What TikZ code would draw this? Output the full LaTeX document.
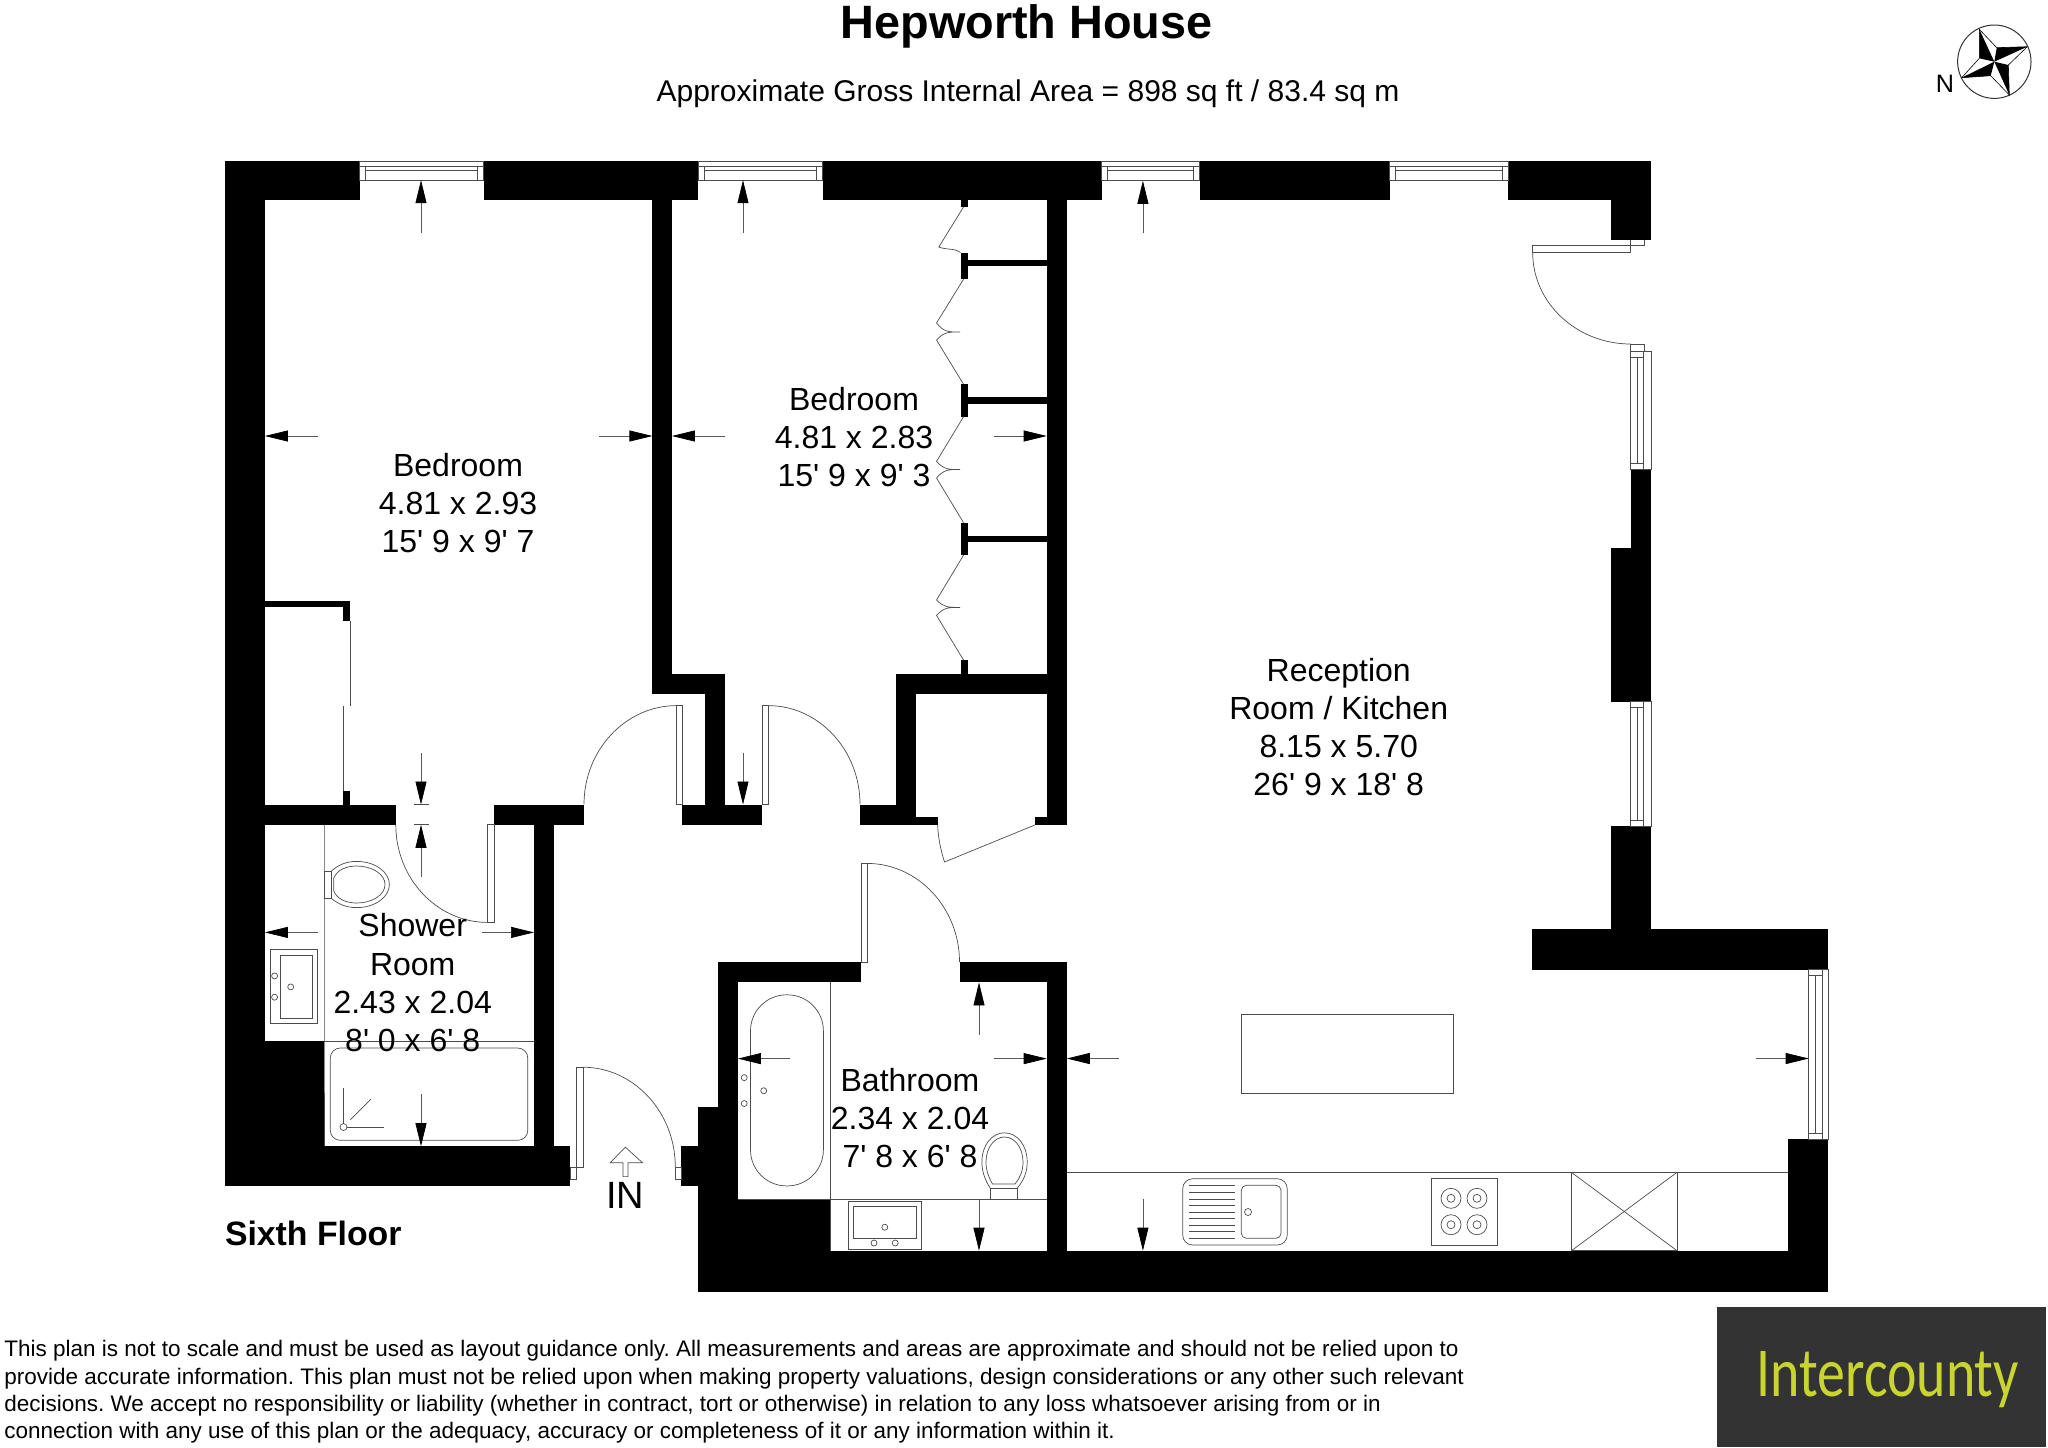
\documentclass[tikz,border=0pt]{standalone}
\usepackage{fontspec}
\setmainfont{Liberation Sans}
\newfontfamily\planfont{Liberation Sans}
\newfontfamily\logofont{Carlito}
\usetikzlibrary{arrows.meta}
\definecolor{logogrey}{HTML}{333333}
\definecolor{logoyellow}{HTML}{C9D52F}
\tikzset{
    wall/.style={fill=black},
    fitting/.style={draw=black!70, line width=.35pt},
    dimarrow/.style={draw=black!65, line width=.35pt, -{Triangle[length=11.5pt,width=5.5pt,color=black]}},
    roomlabel/.style={align=center, inner sep=0pt, font=\planfont\fontsize{16}{19.1}\selectfont},
    boldlabel/.style={inner sep=0pt, font=\bfseries}
}
\begin{document}
\begin{tikzpicture}[x=.5pt, y=-.5pt]
    \useasboundingbox (0,0) rectangle (2048,1447);
    % Muri esterni in alto
    \foreach \xa/\xb in {225/359.6, 483.6/698.3, 822.8/1101.5, 1199.5/1389.8, 1508.2/1651}
        \fill[wall] (\xa,161) rectangle (\xb,200.3);
    \fill[wall] (1611.2,200) rectangle (1651,239.5);
    % Muri a sinistra
    \fill[wall] (225,161) rectangle (264.9,1186.2);
    \fill[wall] (225,1146.2) rectangle (570.3,1186.2);
    \fill[wall] (264.9,1041) rectangle (324,1186.2);
    \fill[wall] (534,804.5) rectangle (554.2,1146.2);
    \fill[wall] (264.9,804.5) rectangle (395.8,824.8);
    \fill[wall] (493.9,804.5) rectangle (584,824.8);
    % Armadio camera sinistra
    \fill[wall] (264.9,600.7) rectangle (350.4,607.4);
    \fill[wall] (343,600.7) rectangle (350.4,620.8);
    \fill[wall] (343,791) rectangle (350.4,804.5);
    % Muri tra le camere
    \fill[wall] (652.4,200) rectangle (671.9,693.6);
    \fill[wall] (652.4,673.5) rectangle (725.3,693.6);
    \fill[wall] (705.2,673.5) rectangle (725.3,804.5);
    \fill[wall] (682.2,804.5) rectangle (762,824.8);
    % Ripostiglio
    \fill[wall] (1046.7,200) rectangle (1066.8,824.8);
    \fill[wall] (895.7,673.5) rectangle (1046.7,693.6);
    \fill[wall] (895.7,673.5) rectangle (915.8,824.8);
    \fill[wall] (860,804.5) rectangle (915.8,824.8);
    \fill[wall] (915.8,817.2) rectangle (937.7,824.8);
    \fill[wall] (1035.3,817.2) rectangle (1046.7,824.8);
    % Bagno
    \fill[wall] (717.8,962) rectangle (861.3,982.4);
    \fill[wall] (959.5,962) rectangle (1066.8,982.4);
    \fill[wall] (717.8,962) rectangle (737.9,1292);
    \fill[wall] (698.3,1107) rectangle (717.8,1292);
    \fill[wall] (681,1146.2) rectangle (698.3,1186.2);
    \fill[wall] (737.9,1199) rectangle (830.3,1251);
    \fill[wall] (1046.7,962) rectangle (1066.8,1292);
    \fill[wall] (698.3,1250.7) rectangle (1828,1292);
    % Muri a destra
    \fill[wall] (1630.6,469.6) rectangle (1651,548);
    \fill[wall] (1611.2,548) rectangle (1651,701.7);
    \fill[wall] (1611.2,826.2) rectangle (1651,929);
    \fill[wall] (1532,929) rectangle (1828,969.5);
    \fill[wall] (1788.3,1139.3) rectangle (1828,1292);
    % Mensole dell'armadio
    \foreach \ya/\yb/\yc/\yd in {259.6/266.3/252.5/279.3, 397/404.3/384.2/416.8, 535.5/542.2/522.6/555.2} {
        \fill[wall] (968.1,\ya) rectangle (1046.7,\yb);
        \fill[wall] (960.6,\yc) rectangle (968.1,\yd);
    }
    \fill[wall] (960.6,200) rectangle (968.1,207);
    \fill[wall] (960.6,660) rectangle (968.1,673.5);
    % Ante a libro
    \draw[fitting] (963.5,207) -- (938.8,247) .. controls (946,250) and (955,248) .. (960.6,252.5);
    \foreach \ya/\yb/\yc/\yd/\ye in {279.3/323/332/340/384.2, 416.8/461.4/469.5/478/522.6, 555.2/600/607.4/615.4/660} {
        \draw[fitting] (963.5,\ya) -- (936.5,\yb) .. controls (944,\yc) and (948,\yc) .. (960,\yc)
            .. controls (948,\yc) and (944,\yc) .. (936.5,\yd) -- (963.5,\ye);
    }
    % Scorrevoli camera sinistra
    \draw[fitting] (350.4,620.8) -- (350.4,705.6);
    \draw[fitting] (343.5,705.6) -- (343.5,791);
    % Finestre in alto
    \foreach \xa/\xb in {359.6/483.6, 698.3/822.8, 1101.5/1199.5, 1389.8/1508.2} {
        \draw[fitting] (\xa,161) rectangle (\xb,180);
        \draw[fitting] (\xa,166.8) -- (\xb,166.8);
        \draw[fitting] (\xa+6,170.5) -- (\xb-6,170.5);
        \draw[fitting] (\xa+6,166.8) -- (\xa+6,180);
        \draw[fitting] (\xb-6,166.8) -- (\xb-6,180);
    }
    % Finestre a destra
    \foreach \xa/\xb/\ya/\yb in {1630.6/1651/351.2/469.6, 1630.6/1651/701.7/826.2, 1808.7/1828/969.5/1139.3} {
        \draw[fitting] (\xa,\ya) rectangle (\xb,\yb);
        \draw[fitting] (\xa+6.5,\ya+6) -- (\xa+6.5,\yb-6);
        \draw[fitting] (\xa+13.2,\ya) -- (\xa+13.2,\yb);
        \draw[fitting] (\xa,\ya+6) -- (\xa+13.2,\ya+6);
        \draw[fitting] (\xa,\yb-6) -- (\xa+13.2,\yb-6);
    }
    % Porte
    \draw[fitting] (676.5,705.6) rectangle (682.2,804.5);
    \draw[fitting] (584,804.3) .. controls (584,750) and (625.6,705.6) .. (676.5,705.6);
    \draw[fitting] (762,705.6) rectangle (768.3,804.5);
    \draw[fitting] (768.3,705.6) .. controls (818.7,705.6) and (860,750) .. (860,804.3);
    \draw[fitting] (487.6,824.8) rectangle (493.9,922.4);
    \draw[fitting] (395.8,824.8) .. controls (395.8,878.5) and (437,922.4) .. (487.6,922.4);
    \draw[fitting] (861.3,863.4) rectangle (867,962);
    \draw[fitting] (867,863.4) .. controls (917.9,863.4) and (959.5,907.8) .. (959.5,962);
    \draw[fitting] (576.6,1067.2) rectangle (582.9,1166.9);
    \draw[fitting] (570.3,1166.9) rectangle (576.6,1179.3);
    \draw[fitting] (582.9,1067.2) .. controls (633.7,1067.2) and (675.3,1112) .. (675.3,1166.9);
    \draw[fitting] (675.3,1166.9) rectangle (681,1179.3);
    \draw[fitting] (1532.7,245.6) rectangle (1630.6,252.8);
    \draw[fitting] (1630.6,239.5) -- (1630.6,245.6) -- (1643.9,245.6) -- (1643.9,239.5);
    \draw[fitting] (1532.7,252.8) .. controls (1532.7,303) and (1576.8,344) .. (1630.6,344);
    \draw[fitting] (1630.6,344) rectangle (1643.9,351.2);
    \draw[fitting] (937.7,824.8) .. controls (938,838) and (941,851) .. (944.5,862) -- (1035.3,824.8);
    % Bagno con doccia
    \draw[fitting] (324,824.8) -- (324,1041) -- (324,1146.2);
    \draw[fitting] (324,1041) -- (534,1041);
    \draw[fitting, rounded corners=5pt] (330.3,1048) rectangle (527.8,1140.3);
    \draw[fitting] (343.5,1087.6) -- (343.5,1123.5);
    \draw[fitting] (347,1127) -- (383.7,1127);
    \draw[fitting] (350.4,1119.7) -- (371,1099);
    \draw[fitting] (343.5,1127) circle (3.5);
    \draw[fitting] (270,949.7) rectangle (317.7,1023.8);
    \draw[fitting] (280.4,955.5) rectangle (312.5,1018.3);
    \foreach \xa/\ya in {274.6/975.9, 274.6/997.2, 290.7/986.9}
        \draw[fitting] (\xa,\ya) circle (3);
    \draw[fitting] (324,871.4) rectangle (331,898);
    \draw[fitting] (331,871.4) .. controls (338,865) and (346,861.4) .. (356.7,861.4)
        .. controls (375,861.4) and (389.4,872) .. (389.4,884.5)
        .. controls (389.4,897) and (375,907.6) .. (356.7,907.6)
        .. controls (346,907.6) and (338,904) .. (331,898);
    \draw[fitting] (333.8,878) .. controls (337,870) and (346,866) .. (356.7,866)
        .. controls (372,866) and (385,874) .. (385,884.5)
        .. controls (385,895) and (372,903) .. (356.7,903)
        .. controls (346,903) and (337,899) .. (333.8,891) -- cycle;
    % Bagno con vasca
    \draw[fitting] (830.3,982.4) -- (830.3,1250.7);
    \draw[fitting] (737.9,1199) -- (1046.7,1199);
    \draw[fitting, rounded corners=18pt] (750.5,994.8) rectangle (823.4,1185.9);
    \foreach \xa/\ya in {744.2/1077.6, 744.2/1103.5, 763.7/1090.7, 874/1243, 895.2/1243, 884.8/1227.2}
        \draw[fitting, fill=white] (\xa,\ya) circle (3);
    \draw[fitting] (990.5,1188.6) rectangle (1016.9,1199);
    \draw[fitting] (990.5,1188.6) .. controls (985,1180) and (981.9,1172) .. (981.9,1162)
        .. controls (981.9,1145) and (992,1132.8) .. (1004.5,1132.8)
        .. controls (1017,1132.8) and (1027.2,1145) .. (1027.2,1162)
        .. controls (1027.2,1172) and (1024,1180) .. (1016.9,1188.6);
    \draw[fitting] (992.5,1184) .. controls (989,1178) and (986,1171) .. (986,1162)
        .. controls (986,1148) and (994,1137) .. (1004.5,1137)
        .. controls (1015,1137) and (1023,1148) .. (1023,1162)
        .. controls (1023,1171) and (1020,1178) .. (1015,1184) -- cycle;
    \draw[fitting] (848.1,1201) rectangle (921.6,1249);
    \draw[fitting] (853.8,1205.9) rectangle (916.4,1238.7);
    % Cucina
    \draw[fitting] (1066.8,1172.3) -- (1788.3,1172.3);
    \draw[fitting] (1241.3,1014.3) rectangle (1453.6,1093.7);
    \draw[fitting, rounded corners=5pt] (1182.7,1178.7) rectangle (1287.2,1245);
    \draw[fitting, rounded corners=2.5pt] (1241.3,1185.3) rectangle (1281,1238.3);
    \foreach \ya in {1185.7, 1192.3, 1199, 1205.3, 1212, 1218.3, 1225, 1231.7, 1238.3}
        \draw[fitting] (1188.8,\ya) -- (1235.2,\ya);
    \draw[fitting] (1248,1212) circle (3.5);
    \draw[fitting] (1431.6,1178.7) rectangle (1497.4,1245);
    \foreach \xa in {1451,1477}
        \foreach \ya in {1198.3,1224.7} {
            \draw[fitting] (\xa,\ya) circle (10);
            \draw[fitting] (\xa,\ya) circle (4);
        }
    \draw[fitting] (1571.4,1172.3) rectangle (1677,1250.7);
    \draw[fitting] (1571.4,1172.3) -- (1677,1250.7);
    \draw[fitting] (1571.4,1250.7) -- (1677,1172.3);
    % Frecce delle misure
    \foreach \xa/\ya/\xb/\yb in {421/232.9/421/180.2, 743/232.9/743/180.2, 1142.9/233.4/1142.9/180.8,
        317.7/436/264.9/436, 599/436/652.4/436, 725.3/436/671.9/436, 993.9/436/1046.7/436,
        421/752.5/421/804.5, 743/752.5/743/804.5, 421/877.2/421/824.8,
        317.7/932.4/264.9/932.4, 481.9/932.4/534/932.4, 421/1093.8/421/1146.2,
        979/1034.5/979/982.4, 790/1058.6/737.9/1058.6, 994/1058.6/1046.7/1058.6, 979/1199/979/1250.7,
        1118.9/1058.5/1066.8/1058.5, 1755.6/1058.5/1808.7/1058.5, 1142.9/1198.7/1142.9/1250.7}
        \draw[dimarrow] (\xa,\ya) -- (\xb,\yb);
    \draw[fitting] (414,804.5) -- (428.5,804.5);
    \draw[fitting] (414,824.8) -- (428.5,824.8);
    % Freccia di ingresso
    \draw[fitting] (623,1176.6) -- (623,1162.8) -- (610,1162.8) -- (625.4,1147.2) -- (642.6,1162.8) -- (628,1162.8) -- (628,1176.6) -- cycle;
    \node[inner sep=0pt, font=\fontsize{19}{21}\selectfont] (ingresso) at (625,1195) {IN};
    % Stanze
    \node[roomlabel] (cameraA) at (458,503.3) {Bedroom\\4.81 x 2.93\\15' 9 x 9' 7};
    \node[roomlabel] (cameraB) at (854,437.3) {Bedroom\\4.81 x 2.83\\15' 9 x 9' 3};
    \node[roomlabel] (soggiorno) at (1338.7,727) {Reception\\Room / Kitchen\\8.15 x 5.70\\26' 9 x 18' 8};
    \node[roomlabel] (doccia) at (412.7,982.8) {Shower\\Room\\2.43 x 2.04\\8' 0 x 6' 8};
    \node[roomlabel] (vasca) at (910,1118) {Bathroom\\2.34 x 2.04\\7' 8 x 6' 8};
    % Titoli
    \node[boldlabel, font=\bfseries\fontsize{23.4}{26}\selectfont] (titolo) at (1026.6,26) {Hepworth House};
    \node[inner sep=0pt, font=\fontsize{15}{17}\selectfont] (area) at (1028,94) {Approximate Gross Internal Area = 898 sq ft / 83.4 sq m};
    \node[boldlabel, anchor=west, font=\bfseries\fontsize{16.9}{19}\selectfont] (piano) at (224.6,1233) {Sixth Floor};
    % Avvertenza
    \node[anchor=north west, align=left, inner sep=0pt, font=\frenchspacing\fontsize{11.24}{13.65}\selectfont] (avvertenza) at (4,1340) {This plan is not to scale and must be used as layout guidance only. All measurements and areas are approximate and should not be relied upon to\\provide accurate information. This plan must not be relied upon when making property valuations, design considerations or any other such relevant\\decisions. We accept no responsibility or liability (whether in contract, tort or otherwise) in relation to any loss whatsoever arising from or in\\connection with any use of this plan or the adequacy, accuracy or completeness of it or any information within it.};
    % Logo
    \fill[logogrey] (1716.7,1307.3) rectangle (2045.7,1447);
    \node[anchor=base west, inner sep=0pt, text=logoyellow, xscale=1.035, yscale=1.3, transform shape, font=\logofont\fontsize{27}{30}\selectfont] (logo) at (1756,1396) {Intercounty};
    % Bussola
    \draw[line width=.5pt, black!80] (1994.3,61.7) circle (36.7);
    \draw[line width=.3pt, fill=white] (1979.3,29.3) -- (1996.7,47.7) -- (2027.3,46.7) -- (2008.3,65) -- (2009.3,95) -- (1990.7,75.7) -- (1961.7,77.7) -- (1979.3,58.3) -- cycle;
    \foreach \xa/\ya/\xb/\yb in {1979.3/29.3/1979.3/58.3, 2027.3/46.7/1996.7/47.7, 2009.3/95/2008.3/65, 1961.7/77.7/1990.7/75.7}
        \fill[black] (\xa,\ya) -- (\xb,\yb) -- (1994.3,61.7) -- cycle;
    \node[inner sep=0pt, font=\fontsize{12.6}{14}\selectfont] (nord) at (1945,84) {N};
\end{tikzpicture}
\end{document}
